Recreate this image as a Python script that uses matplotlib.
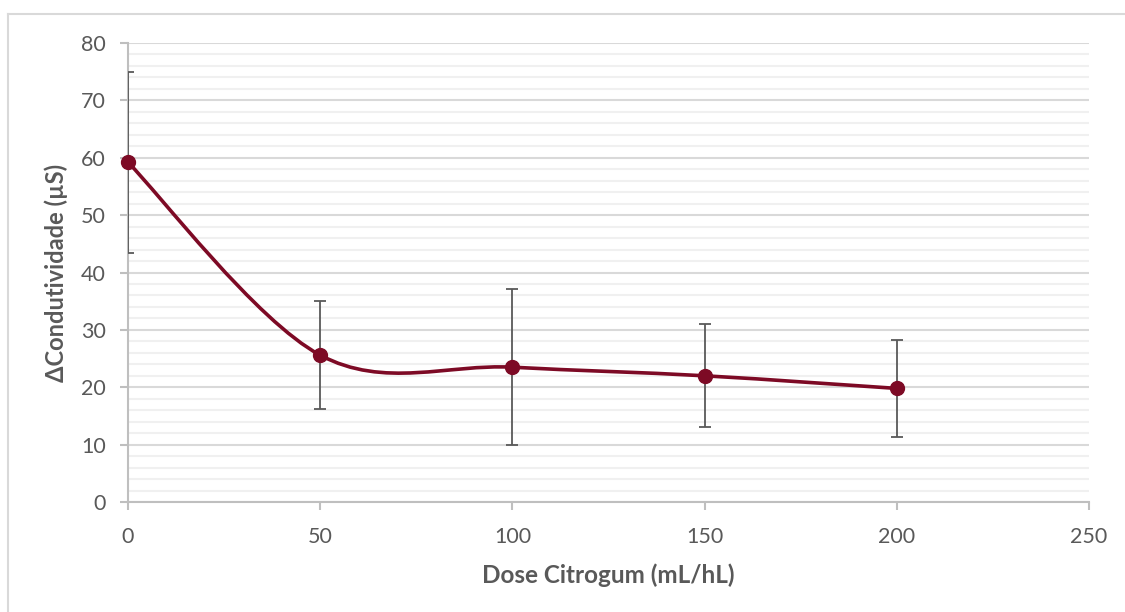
import numpy as np
import matplotlib.pyplot as plt
from matplotlib.path import Path
from matplotlib.patches import PathPatch
from matplotlib.lines import Line2D

plt.rcParams['font.family'] = ['Lato', 'DejaVu Sans']

dose = [0, 50, 100, 150, 200]
delta_cond = [59.2, 25.6, 23.5, 22.0, 19.8]
err = [15.8, 9.4, 13.6, 9.0, 8.4]

x_ticks = [0, 50, 100, 150, 200, 250]
y_ticks = [0, 10, 20, 30, 40, 50, 60, 70, 80]

line_col = '#7d0a25'
grid_col = '#d9d9d9'
txt_col = '#595959'

fig = plt.figure(figsize=(11.25, 6.12), dpi=100)
ax = fig.add_axes([0.1138, 0.1797, 0.8542, 0.7500])

# outer chart border (only top/left visible in the reference)
fig.add_artist(Line2D([8 / 1125, 8 / 1125], [0, 1 - 14 / 612], transform=fig.transFigure,
                      color='#d9d9d9', lw=1.5))
fig.add_artist(Line2D([8 / 1125, 1], [1 - 14 / 612, 1 - 14 / 612], transform=fig.transFigure,
                      color='#d9d9d9', lw=1.5))

# smoothed line like Excel (cubic bezier, catmull-rom style control points)
pts = np.column_stack([dose, delta_cond])
verts = [tuple(pts[0])]
codes = [Path.MOVETO]
n = len(pts)
for i in range(n - 1):
    p0 = pts[i - 1] if i > 0 else pts[i]
    p1 = pts[i]
    p2 = pts[i + 1]
    p3 = pts[i + 2] if i + 2 < n else pts[i + 1]
    c1 = p1 + (p2 - p0) / 6
    c2 = p2 - (p3 - p1) / 6
    verts += [tuple(c1), tuple(c2), tuple(p2)]
    codes += [Path.CURVE4] * 3
ax.add_patch(PathPatch(Path(verts, codes), fill=False, edgecolor=line_col, lw=2.6,
                       zorder=4, capstyle='round'))

ax.errorbar(dose, delta_cond, yerr=err, fmt='none', ecolor='#595959', elinewidth=1.3,
            capsize=4, capthick=1.3, zorder=3, clip_on=True)
ax.plot(dose, delta_cond, 'o', color=line_col, ms=10, zorder=5, clip_on=False)

ax.set_xlim(0, 250)
ax.set_ylim(0, 80)
ax.set_xticks(x_ticks)
ax.set_yticks(y_ticks)
ax.set_yticks(np.arange(0, 81, 2), minor=True)
ax.grid(which='major', axis='y', color=grid_col, lw=1.5)
ax.grid(which='minor', axis='y', color='#f0f0f0', lw=1.5)
ax.set_axisbelow(True)

for s in ['top', 'right']:
    ax.spines[s].set_visible(False)
for s in ['left', 'bottom']:
    ax.spines[s].set_color('#bfbfbf')
    ax.spines[s].set_linewidth(1.5)

ax.tick_params(axis='both', which='major', colors='#bfbfbf', labelcolor=txt_col,
               labelsize=15.5, length=6, width=1.5)
ax.tick_params(axis='y', which='minor', length=0)
ax.tick_params(axis='x', pad=12)
ax.tick_params(axis='y', pad=10)

ax.set_xlabel('Dose Citrogum (mL/hL)', fontsize=17.5, fontweight='bold', color=txt_col,
              labelpad=12)
ax.set_ylabel('ΔCondutividade (µS)', fontsize=17, fontweight='bold', color=txt_col,
              labelpad=9)

fig.savefig('out.png', dpi=100, facecolor='white')
